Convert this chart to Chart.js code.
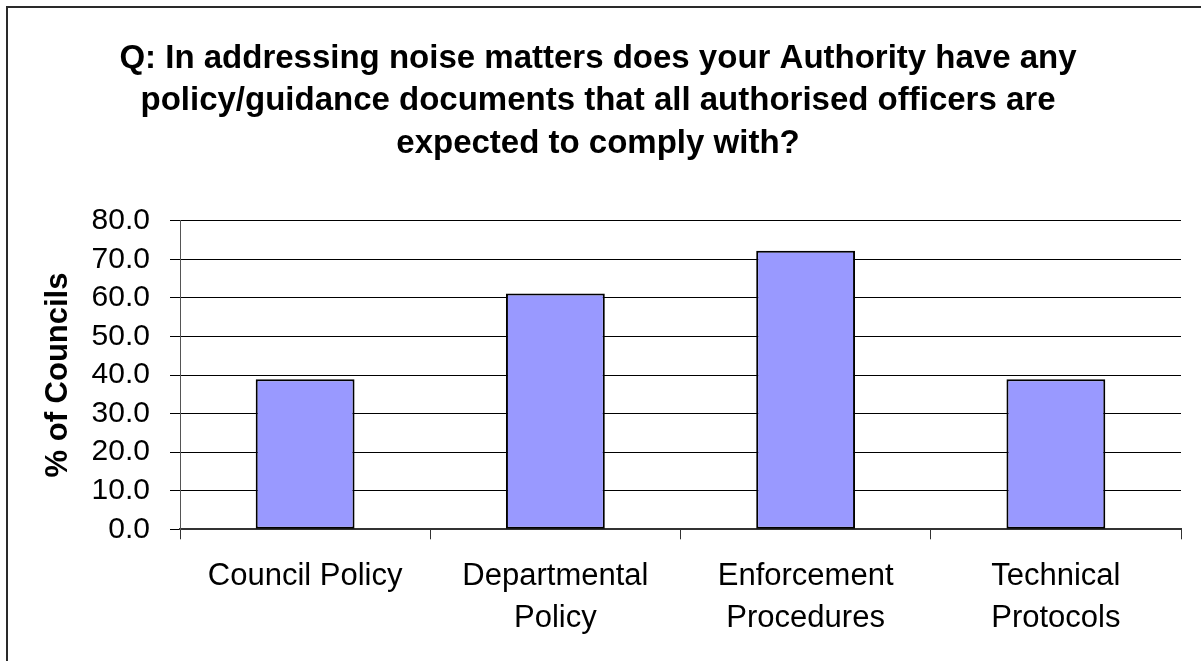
<!DOCTYPE html>
<html>
<head>
<meta charset="utf-8">
<script src="https://cdn.jsdelivr.net/npm/chart.js@4/dist/chart.umd.min.js"></script>
<style>
  html, body { margin: 0; padding: 0; background: #fff; }
  #wrap { position: relative; width: 1201px; height: 661px; }
</style>
</head>
<body>
<div id="wrap"><canvas id="c" width="1201" height="661"></canvas></div>
<script>
// Survey answers: share of councils with each kind of noise policy document
const categories = [
  'Council Policy',
  ['Departmental', 'Policy'],
  ['Enforcement', 'Procedures'],
  ['Technical', 'Protocols']
];
const percentCouncils = [38.9, 61.1, 72.2, 38.9];
const yTicks = [0, 10, 20, 30, 40, 50, 60, 70, 80];
const titleLines = [
  'Q: In addressing noise matters does your Authority have any',
  'policy/guidance documents that all authorised officers are',
  'expected to comply with?'
];
const yTitle = '% of Councils';

const FONT = "'Liberation Sans', Arial, Helvetica, sans-serif";

// Frame around the chart (top and left edges are inside the page)
const framePlugin = {
  id: 'frame',
  beforeDraw(chart) {
    const ctx = chart.ctx;
    ctx.save();
    ctx.strokeStyle = '#2a2a2a';
    ctx.lineWidth = 2;
    ctx.beginPath();
    ctx.moveTo(7, chart.height + 2);
    ctx.lineTo(7, 7);
    ctx.lineTo(chart.width + 2, 7);
    ctx.stroke();
    ctx.restore();
  }
};

new Chart(document.getElementById('c'), {
  type: 'bar',
  data: {
    labels: categories,
    datasets: [{
      data: percentCouncils,
      backgroundColor: '#9999FF',
      borderColor: '#000000',
      borderWidth: 2,
      borderSkipped: false,
      categoryPercentage: 1.0,
      barPercentage: 0.395
    }]
  },
  plugins: [framePlugin],
  options: {
    responsive: false,
    animation: false,
    devicePixelRatio: 1,
    layout: { padding: { left: 15, right: 20, top: 0, bottom: 6 } },
    plugins: {
      legend: { display: false },
      tooltip: { enabled: false },
      title: {
        display: true,
        text: titleLines,
        color: '#000',
        font: { family: FONT, size: 33, weight: 'bold', lineHeight: 1.3 },
        padding: { top: 37, bottom: 55 }
      }
    },
    scales: {
      x: {
        offset: true,
        grid: {
          offset: true,
          drawOnChartArea: false,
          drawTicks: true,
          tickLength: 10,
          color: '#333',
          lineWidth: 1
        },
        border: { display: true, color: '#333', width: 2 },
        ticks: {
          color: '#000',
          padding: 16,
          maxRotation: 0,
          autoSkip: false,
          font: { family: FONT, size: 31, lineHeight: 1.35 }
        }
      },
      y: {
        min: 0,
        max: 80,
        afterBuildTicks(scale) {
          scale.ticks = yTicks.map(v => ({ value: v }));
        },
        afterFit(scale) { scale.width = 165; },
        grid: {
          color: '#000',
          lineWidth: 1,
          drawTicks: true,
          tickLength: 10
        },
        border: { display: true, color: '#555', width: 1 },
        ticks: {
          color: '#000',
          padding: 20,
          autoSkip: false,
          stepSize: 10,
          font: { family: FONT, size: 30 },
          callback: v => Number(v).toFixed(1)
        },
        title: {
          display: true,
          text: yTitle,
          color: '#000',
          font: { family: FONT, size: 31, weight: 'bold', lineHeight: 1.2 },
          padding: { top: 25, bottom: 0 }
        }
      }
    }
  }
});
</script>
</body>
</html>
